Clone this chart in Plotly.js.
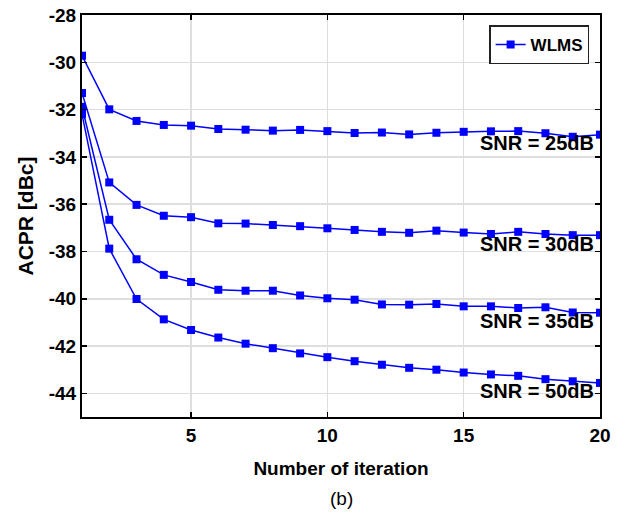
<!DOCTYPE html>
<html>
<head>
<meta charset="utf-8">
<script src="https://cdn.plot.ly/plotly-3.0.1.min.js"></script>
<style>html,body{margin:0;padding:0;background:#fff;}#chart{width:617px;height:520px;}</style>
</head>
<body>
<div id="chart"></div>
<script>
const iterations = [1,2,3,4,5,6,7,8,9,10,11,12,13,14,15,16,17,18,19,20];
const snr25 = [-29.72,-31.99,-32.48,-32.65,-32.68,-32.82,-32.85,-32.89,-32.86,-32.91,-32.99,-32.97,-33.05,-32.98,-32.94,-32.92,-32.91,-33.0,-33.15,-33.06];
const snr30 = [-31.3,-35.08,-36.03,-36.49,-36.55,-36.81,-36.82,-36.88,-36.93,-37.02,-37.09,-37.17,-37.21,-37.12,-37.2,-37.26,-37.17,-37.26,-37.31,-37.31];
const snr35 = [-31.88,-36.66,-38.33,-38.99,-39.29,-39.62,-39.66,-39.66,-39.86,-39.98,-40.04,-40.24,-40.25,-40.22,-40.32,-40.32,-40.39,-40.36,-40.58,-40.59];
const snr50 = [-32.19,-37.88,-40.01,-40.87,-41.32,-41.64,-41.9,-42.09,-42.31,-42.47,-42.64,-42.79,-42.92,-43.0,-43.12,-43.2,-43.26,-43.4,-43.49,-43.56];
const labels = ['SNR = 25dB','SNR = 30dB','SNR = 35dB','SNR = 50dB'];
const labelY = [-33.40,-37.69,-40.94,-43.92];
const xTicks = [5, 10, 15, 20];
const yTicks = [-44,-42,-40,-38,-36,-34,-32,-30,-28];
const seriesList = [snr25, snr30, snr35, snr50];

const blue = '#0000ff';
const traces = seriesList.map((s, i) => ({
  x: iterations, y: s, type: 'scatter', mode: 'lines+markers',
  name: '<b>WLMS</b>', showlegend: i === 0,
  line: {color: blue, width: 1.5},
  marker: {symbol: 'square', size: 8, color: blue}
}));

const font = {family: 'Liberation Sans, Arial, sans-serif', color: '#000'};
const annotations = labels.map((t, i) => ({
  x: 20, y: labelY[i], xref: 'x', yref: 'y', text: '<b>' + t + '</b>',
  showarrow: false, xanchor: 'right', yanchor: 'middle', xshift: -4,
  font: Object.assign({}, font, {size: 20})
}));
annotations.push({
  x: 0.5, y: -0.203, xref: 'paper', yref: 'paper', text: '(b)', showarrow: false,
  xanchor: 'center', yanchor: 'middle', font: Object.assign({}, font, {size: 19})
});

const layout = {
  width: 617, height: 520,
  margin: {l: 82, r: 17, t: 15, b: 103},
  paper_bgcolor: '#fff', plot_bgcolor: '#fff',
  font: font,
  showlegend: true,
  legend: {
    x: 0.979, y: 0.974, xanchor: 'right', yanchor: 'top',
    bordercolor: '#222', borderwidth: 1.5, bgcolor: '#fff',
    font: Object.assign({}, font, {size: 17}),
    tracegroupgap: 0, itemwidth: 30
  },
  xaxis: {
    range: [1, 20], tickvals: xTicks, ticktext: xTicks.map(v => '<b>' + v + '</b>'),
    showgrid: true, gridcolor: '#dedede', gridwidth: 1.5,
    zeroline: false, showline: true, linecolor: '#000', linewidth: 2, mirror: 'ticks',
    ticks: 'inside', ticklen: 5, tickwidth: 1.5, tickcolor: '#000',
    tickfont: Object.assign({}, font, {size: 19}),
    title: {text: '<b>Number of iteration</b>', font: Object.assign({}, font, {size: 19}), standoff: 17}
  },
  yaxis: {
    range: [-45, -28], tickvals: yTicks,
    ticktext: yTicks.map(v => '<b>' + v + '</b>'),
    showgrid: true, gridcolor: '#dedede', gridwidth: 1.5,
    zeroline: false, showline: true, linecolor: '#000', linewidth: 2, mirror: 'ticks',
    ticks: 'inside', ticklen: 5, tickwidth: 1.5, tickcolor: '#000',
    tickfont: Object.assign({}, font, {size: 19}),
    title: {text: '<b>ACPR [dBc]</b>', font: Object.assign({}, font, {size: 21}), standoff: 9}
  },
  annotations: annotations
};

Plotly.newPlot('chart', traces, layout, {displayModeBar: false, staticPlot: true});
</script>
</body>
</html>
